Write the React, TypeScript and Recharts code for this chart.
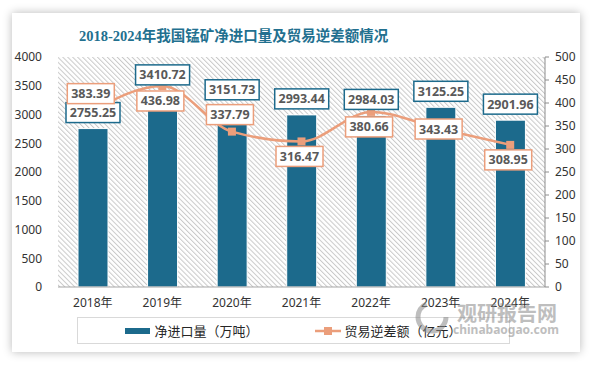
import { ComposedChart, Bar, Line, XAxis, YAxis, CartesianGrid, LabelList } from "recharts";

const years = ["2018年", "2019年", "2020年", "2021年", "2022年", "2023年", "2024年"];
const netImports = [2755.25, 3410.72, 3151.73, 2993.44, 2984.03, 3125.25, 2901.96];
const tradeDeficit = [383.39, 436.98, 337.79, 316.47, 380.66, 343.43, 308.95];
const leftTicks = [0, 500, 1000, 1500, 2000, 2500, 3000, 3500, 4000];
const rightTicks = [0, 50, 100, 150, 200, 250, 300, 350, 400, 450, 500];

// where each deficit label sits relative to its point
const deficitLabelSide = ["above", "below", "above", "below", "below", "center", "below"];

const BAR_COLOR = "#1c6a8c";
const LINE_COLOR = "#eb9e7b";
const FONT = "'Noto Sans', 'Noto Sans CJK SC', sans-serif";

const data = years.map((year, i) => ({
  year,
  net: netImports[i],
  deficit: tradeDeficit[i],
}));

function LabelBox({ cx, cy, text, border }: { cx: number; cy: number; text: string; border: string }) {
  const w = text.length * 7 + 5;
  const h = 20;
  return (
    <g>
      <rect x={cx - w / 2} y={cy - h / 2} width={w} height={h} fill="#fff" stroke={border} strokeWidth={1.5} />
      <text
        x={cx}
        y={cy}
        textAnchor="middle"
        dominantBaseline="central"
        fontFamily={FONT}
        fontWeight="bold"
        fontSize={12.5}
        fill="#595959"
      >
        {text}
      </text>
    </g>
  );
}

const barLabel = (props: any) => {
  const vb = props.viewBox ?? props;
  const x = vb.x ?? props.x;
  const y = vb.y ?? props.y;
  const width = vb.width ?? props.width ?? 0;
  return <LabelBox cx={x + width / 2} cy={y - 16} text={String(props.value)} border={BAR_COLOR} />;
};

const lineLabel = (props: any) => {
  const vb = props.viewBox ?? props;
  const x = vb.x ?? props.x;
  const y = vb.y ?? props.y;
  const side = deficitLabelSide[props.index] ?? "above";
  const cy = side === "above" ? y - 17 : side === "below" ? y + 15 : y;
  return <LabelBox cx={x - 2} cy={cy} text={String(props.value)} border={LINE_COLOR} />;
};

const squareDot = (props: any) => {
  const { cx, cy, index } = props;
  return <rect key={`dot-${index}`} x={cx - 4} y={cy - 4} width={8} height={8} fill={LINE_COLOR} />;
};

export default function App() {
  return (
    <div style={{ position: "absolute", left: 0, top: 0, width: 594, height: 366, background: "#fff", overflow: "hidden" }}>
      <div
        style={{
          position: "absolute",
          left: 12,
          top: 13,
          width: 568,
          height: 339,
          background: "#fff",
          boxShadow: "0 0 9px rgba(0,0,0,0.28)",
        }}
      />
      <div
        style={{
          position: "absolute",
          left: 79,
          top: 24,
          fontFamily: "'Liberation Serif', 'Noto Sans CJK SC', serif",
          fontWeight: "bold",
          fontSize: 14.5,
          color: "#22708f",
          whiteSpace: "nowrap",
        }}
      >
        2018-2024年我国锰矿净进口量及贸易逆差额情况
      </div>
      <div style={{ position: "absolute", left: 0, top: 0 }}>
        <ComposedChart width={594} height={366} data={data} margin={{ top: 57, right: 0, bottom: 49, left: 0 }}>
          <defs>
            <pattern id="hatch" width="3.5" height="3.5" patternUnits="userSpaceOnUse" patternTransform="rotate(-45)">
              <rect width="3.5" height="3.5" fill="#fff" />
              <line x1="0.5" y1="0" x2="0.5" y2="3.5" stroke="#c9c9c9" strokeWidth={1} />
            </pattern>
          </defs>
          <CartesianGrid yAxisId="left" horizontal={false} vertical={false} fill="url(#hatch)" fillOpacity={1} />
          <XAxis
            dataKey="year"
            tickLine={false}
            tickSize={0}
            tickMargin={11}
            height={30}
            axisLine={{ stroke: "#a6a6a6" }}
            tick={{ fill: "#333", fontSize: 12, fontFamily: FONT }}
          />
          <YAxis
            yAxisId="left"
            width={58}
            domain={[0, 4000]}
            ticks={leftTicks}
            axisLine={false}
            tickLine={false}
            tickSize={0}
            tickMargin={16}
            tick={{ fill: "#333", fontSize: 12, fontFamily: FONT }}
          />
          <YAxis
            yAxisId="right"
            orientation="right"
            width={49}
            domain={[0, 500]}
            ticks={rightTicks}
            axisLine={{ stroke: "#8c8c8c" }}
            tickLine={{ stroke: "#8c8c8c" }}
            tickSize={4}
            tickMargin={6}
            tick={{ fill: "#333", fontSize: 12, fontFamily: FONT, textAnchor: "start" }}
          />
          <Bar yAxisId="left" dataKey="net" fill={BAR_COLOR} stroke="#fff" strokeWidth={1} barSize={30} isAnimationActive={false}>
            <LabelList dataKey="net" content={barLabel} />
          </Bar>
          <Line
            yAxisId="right"
            type="monotone"
            dataKey="deficit"
            stroke={LINE_COLOR}
            strokeWidth={2.5}
            dot={squareDot}
            activeDot={false}
            isAnimationActive={false}
          >
            <LabelList dataKey="deficit" content={lineLabel} />
          </Line>
        </ComposedChart>
      </div>
      <div
        style={{
          position: "absolute",
          left: 77,
          top: 317,
          width: 433,
          height: 27,
          boxSizing: "border-box",
          border: "1px solid #d9d9d9",
          display: "flex",
          alignItems: "center",
          justifyContent: "center",
          gap: 56,
          fontFamily: FONT,
          fontSize: 13,
          color: "#262626",
        }}
      >
        <div style={{ display: "flex", alignItems: "center", gap: 4 }}>
          <span style={{ display: "inline-block", width: 25, height: 6, background: BAR_COLOR }} />
          <span>净进口量（万吨）</span>
        </div>
        <div style={{ display: "flex", alignItems: "center", gap: 4 }}>
          <svg width={26} height={10}>
            <line x1={0} y1={5} x2={26} y2={5} stroke={LINE_COLOR} strokeWidth={2.5} />
            <rect x={9} y={1} width={8} height={8} fill={LINE_COLOR} />
          </svg>
          <span>贸易逆差额（亿元）</span>
        </div>
      </div>
      <svg style={{ position: "absolute", left: 410, top: 292, opacity: 0.55, pointerEvents: "none" }} width={160} height={50}>
        <circle cx={22} cy={25} r={14} fill="none" stroke="#8a8a8a" strokeWidth={5} strokeDasharray="60 28" />
        <text x={47} y={29} fontFamily="'Noto Sans CJK SC', sans-serif" fontWeight="bold" fontSize={20} fill="#8a8a8a">
          观研报告网
        </text>
        <text x={43} y={42} fontFamily={FONT} fontWeight="bold" fontSize={12} fill="#8a8a8a">
          chinabaogao.com
        </text>
      </svg>
    </div>
  );
}
